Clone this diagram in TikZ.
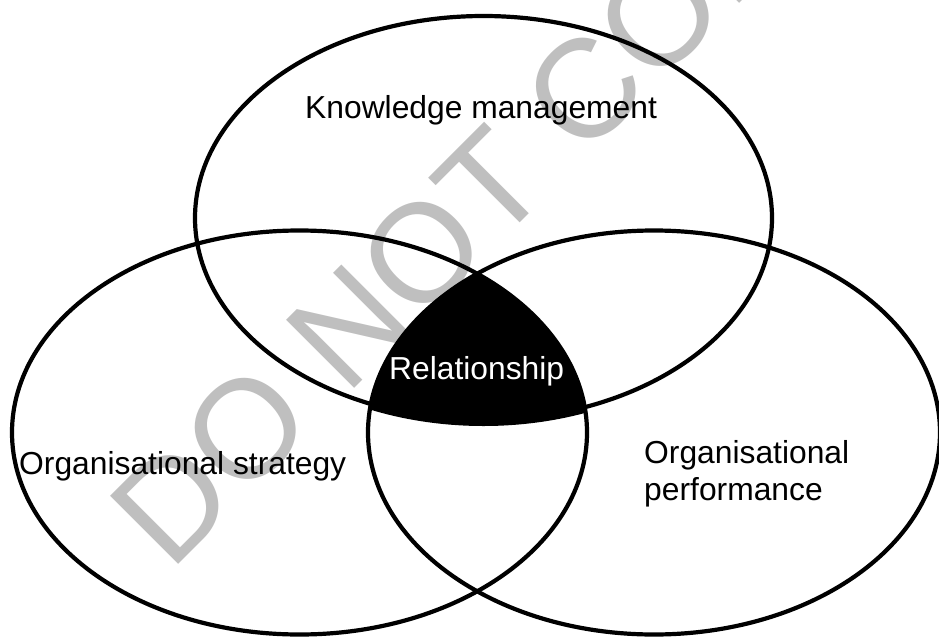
\documentclass[tikz,border=0pt]{standalone}
\usepackage{fontspec}
\setmainfont{Liberation Sans}
\usetikzlibrary{positioning}
\definecolor{wmgray}{RGB}{191,191,191}

\begin{document}
\begin{tikzpicture}[x=1pt,y=-1pt,
  ring/.style={line width=4.2pt},
  txt/.style={inner sep=0pt,font=\fontsize{31.8}{37}\selectfont},
]
\useasboundingbox (0,0) rectangle (939,637);
% watermark
\node[rotate=45,anchor=base west,inner sep=0pt,text=wmgray,
  font=\fontsize{140}{140}\selectfont] (wm) at (170,573) {DO NOT COPY};
% common part of the three sets
\begin{scope}
\clip (299.5,432.5) ellipse [x radius=287.5pt,y radius=202pt];
\clip (654,432.5) ellipse [x radius=286pt,y radius=202pt];
\fill (483.5,221) ellipse [x radius=288.5pt,y radius=205pt];
\end{scope}
\draw[ring] (483.5,218) ellipse [x radius=288.5pt,y radius=202pt];
\draw[ring] (299.5,432.5) ellipse [x radius=287.5pt,y radius=202pt];
\draw[ring] (654,432.5) ellipse [x radius=286pt,y radius=202pt];
\node[txt,anchor=base west] (km) at (305,118) {Knowledge management};
\node[txt,anchor=base west,text=white] (rel) at (389,379) {Relationship};
\node[txt,anchor=base west] (os) at (19,474) {Organisational strategy};
\node[txt,anchor=north west,align=left] (op) at (644,440) {Organisational\\performance};
\end{tikzpicture}
\end{document}
